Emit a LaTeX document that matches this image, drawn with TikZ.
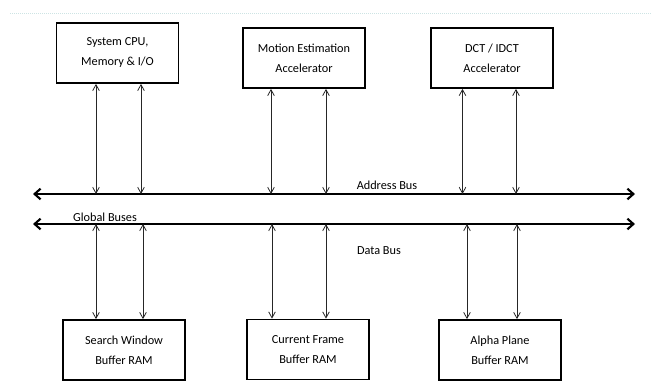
\documentclass[tikz,border=0pt]{standalone}
\usepackage{fontspec}
\setmainfont{Carlito}
\usetikzlibrary{arrows.meta}
\begin{document}
\begin{tikzpicture}[x=0.75pt,y=-0.75pt,
  blk/.style={draw=black,line width=1.3pt,minimum width=91.5pt,minimum height=45pt,inner sep=0pt,align=center,font=\fontsize{9.2}{15}\selectfont},
  lbl/.style={font=\fontsize{9.2}{11}\selectfont,inner sep=0pt},
  busline/.style={line width=1.6pt,{Straight Barb[length=4.5pt,width=8pt,line width=1.6pt]}-{Straight Barb[length=4.5pt,width=8pt,line width=1.6pt]}},
  link/.style={line width=0.6pt,draw=black!85,{Straight Barb[length=4.5pt,width=5pt]}-{Straight Barb[length=4.5pt,width=5pt]}}]
\useasboundingbox (0,0) rectangle (651,390);
\draw[densely dotted,line width=0.5pt,draw={rgb,255:red,205;green,228;blue,228}] (10,13) -- (651,13);
% top boxes
\node[blk] (cpu) at (117.5,53) {System CPU,\\Memory \& I/O};
\node[blk] (me) at (304,58) {Motion Estimation\\Accelerator};
\node[blk] (dct) at (492,58) {DCT / IDCT\\Accelerator};
% bottom boxes
\node[blk] (sw) at (124,350) {Search Window\\Buffer RAM};
\node[blk] (cf) at (308,349.5) {Current Frame\\Buffer RAM};
\node[blk] (ap) at (500,350) {Alpha Plane\\Buffer RAM};
% buses
\coordinate (abL) at (33,194);
\coordinate (abR) at (635,194);
\coordinate (dbL) at (33,224);
\coordinate (dbR) at (635,224);
\draw[busline] (abL) -- (abR);
\draw[busline] (dbL) -- (dbR);
\node[lbl] (abus) at (387,185) {Address Bus};
\node[lbl] (gbus) at (105,217) {Global Buses};
\node[lbl] (dbus) at (379,251) {Data Bus};
% links to address bus
\draw[link] (cpu.south -| 96,0) -- (abL -| 96,0);
\draw[link] (cpu.south -| 141,0) -- (abL -| 141,0);
\draw[link] (me.south -| 271,0) -- (abL -| 271,0);
\draw[link] (me.south -| 326,0) -- (abL -| 326,0);
\draw[link] (dct.south -| 462.5,0) -- (abL -| 462.5,0);
\draw[link] (dct.south -| 516,0) -- (abL -| 516,0);
% links from data bus
\draw[link] (dbL -| 96,0) -- (sw.north -| 96,0);
\draw[link] (dbL -| 143,0) -- (sw.north -| 143,0);
\draw[link] (dbL -| 272,0) -- (cf.north -| 272,0);
\draw[link] (dbL -| 326,0) -- (cf.north -| 326,0);
\draw[link] (dbL -| 467,0) -- (ap.north -| 467,0);
\draw[link] (dbL -| 517,0) -- (ap.north -| 517,0);
\end{tikzpicture}
\end{document}
